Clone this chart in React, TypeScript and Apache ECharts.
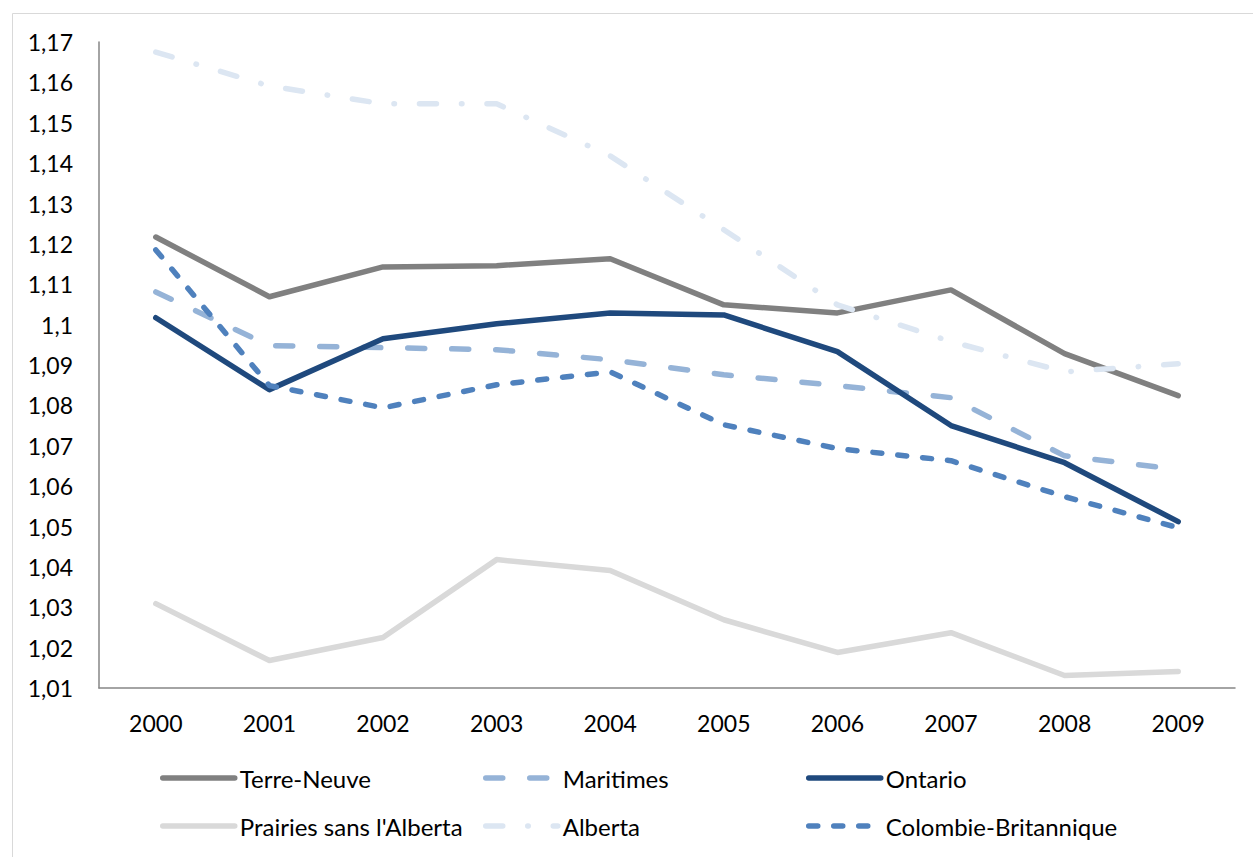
import React, { useEffect, useRef } from "react";
import * as echarts from "echarts";

const years = ["2000", "2001", "2002", "2003", "2004", "2005", "2006", "2007", "2008", "2009"];
const terreNeuve = [1.1217, 1.1069, 1.1143, 1.1146, 1.1163, 1.1049, 1.1029, 1.1086, 1.0928, 1.0824];
const maritimes = [1.1081, 1.0948, 1.0943, 1.0938, 1.0913, 1.0876, 1.0849, 1.0819, 1.0675, 1.0641];
const ontario = [1.1017, 1.0839, 1.0965, 1.1002, 1.1029, 1.1024, 1.0933, 1.075, 1.0658, 1.0512];
const prairies = [1.0309, 1.0168, 1.0225, 1.0418, 1.0391, 1.0269, 1.0188, 1.0237, 1.0131, 1.0141];
const alberta = [1.1675, 1.1591, 1.1547, 1.1547, 1.1418, 1.1235, 1.1049, 1.0958, 1.0883, 1.0903];
const colombie = [1.1185, 1.0849, 1.0794, 1.0851, 1.0883, 1.0752, 1.0693, 1.0663, 1.0574, 1.0497];

const seriesNames = [
  "Terre-Neuve",
  "Maritimes",
  "Ontario",
  "Prairies sans l'Alberta",
  "Alberta",
  "Colombie-Britannique",
];

const FONT = "Lato, 'Open Sans', sans-serif";

export default function App() {
  const ref = useRef<HTMLDivElement>(null);
  useEffect(() => {
    if (!ref.current) return;
    const chart = echarts.init(ref.current, null, { renderer: "svg" });
    const lw = 5.5;
    const mk = (name: string, data: number[], color: string, type: any) => ({
      name,
      type: "line",
      data,
      symbol: "none",
      lineStyle: { color, width: lw, type, cap: "round", join: "round" },
      itemStyle: { color },
    });
    const legendPos = [
      [155, 761],
      [478, 761],
      [801, 761],
      [155, 809],
      [478, 809],
      [801, 809],
    ];
    chart.setOption({
      animation: false,
      textStyle: { fontFamily: FONT },
      graphic: [
        {
          type: "rect",
          left: 10,
          top: 11,
          shape: { width: 1300, height: 900 },
          style: { fill: "none", stroke: "#D9D9D9", lineWidth: 1 },
          silent: true,
        },
      ],
      grid: { left: 99, right: 18, top: 42, bottom: 169 },
      legend: seriesNames.map((n, i) => ({
        data: [n],
        left: legendPos[i][0],
        top: legendPos[i][1],
        itemWidth: 72,
        itemHeight: 14,
        itemGap: 0,
        itemStyle: { opacity: 0 },
        lineStyle: { width: lw },
        textStyle: { fontSize: 24, color: "#000", fontFamily: FONT },
        selectedMode: false,
      })),
      xAxis: {
        type: "category",
        data: years,
        boundaryGap: true,
        axisLine: { lineStyle: { color: "#868686", width: 1.5 } },
        axisTick: { show: false },
        axisLabel: { color: "#000", fontSize: 23, margin: 23, fontFamily: FONT },
      },
      yAxis: {
        type: "value",
        min: 1.01,
        max: 1.17,
        interval: 0.01,
        axisLine: { show: true, lineStyle: { color: "#868686", width: 1.5 } },
        axisTick: { show: false },
        splitLine: { show: false },
        axisLabel: {
          color: "#000",
          fontSize: 23,
          margin: 26,
          fontFamily: FONT,
          formatter: (v: number) => String(parseFloat(v.toFixed(2))).replace(".", ","),
        },
      },
      series: [
        mk("Terre-Neuve", terreNeuve, "#808080", "solid"),
        mk("Maritimes", maritimes, "#95B3D7", [17, 27]),
        mk("Ontario", ontario, "#1F497D", "solid"),
        mk("Prairies sans l'Alberta", prairies, "#D9D9D9", "solid"),
        mk("Alberta", alberta, "#DCE6F2", [17, 25, 0.5, 25]),
        mk("Colombie-Britannique", colombie, "#4F81BD", [9, 16]),
      ],
    });
    return () => chart.dispose();
  }, []);
  return (
    <div
      ref={ref}
      style={{ position: "fixed", left: 0, top: 0, width: 1253, height: 857, background: "#fff" }}
    />
  );
}
